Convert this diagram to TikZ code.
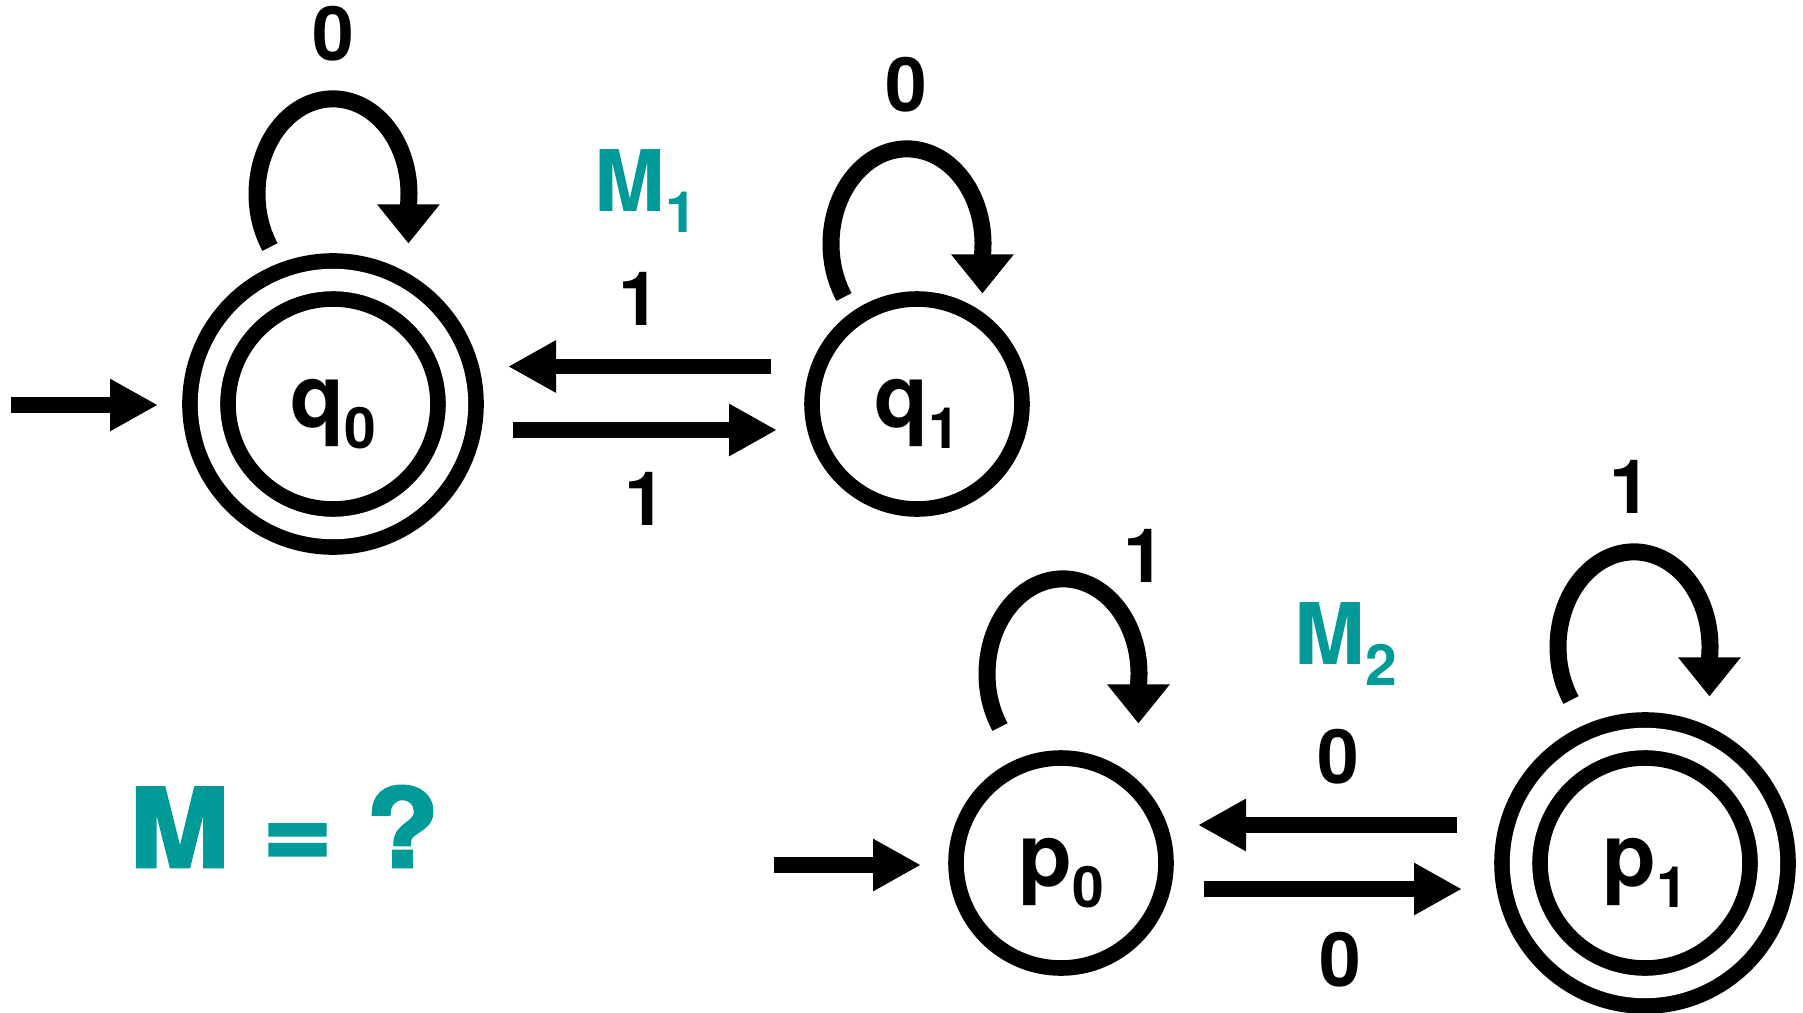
\documentclass[tikz,border=0pt]{standalone}
\usepackage{fontspec}
\setmainfont{TeX Gyre Heros}
\newfontfamily\blackfont[FakeBold=2.5,FakeStretch=1.1]{TeX Gyre Heros}
\usetikzlibrary{arrows.meta,positioning,calc}
\definecolor{mteal}{HTML}{009B98}
\newcommand{\lowsub}[1]{\raisebox{-10.5pt}{\fontsize{28.5}{30}\selectfont #1}}
\tikzset{
  state/.style={circle,draw=black,line width=7.8pt,minimum size=105pt,inner sep=0pt,font=\fontsize{44}{48}\selectfont\bfseries,text height=23pt,text depth=0pt},
  accepting/.style={double=white,double distance=11.2pt,minimum size=124pt},
  lbl/.style={inner sep=0pt,font=\fontsize{37.5}{40}\selectfont\bfseries},
  mlabel/.style={inner sep=0pt,anchor=base west,text=mteal,font=\fontsize{42.5}{46}\selectfont\bfseries},
  flow/.style={-{Triangle[length=24pt,width=24.5pt]},line width=7.8pt},
  loopflow/.style={-{Triangle[length=19.5pt,width=30pt]},line width=8.5pt},
}

\begin{document}
\begin{tikzpicture}[x=0.5pt,y=-0.5pt]
  \useasboundingbox (0,0) rectangle (1803,1012);
  \node[state,accepting] (q0) at (333,404) {q\lowsub{0}};
  \node[state] (q1) at (917,404) {q\lowsub{1}};
  \node[state] (p0) at (1061,863) {p\lowsub{0}};
  \node[state,accepting] (p1) at (1645,863) {p\lowsub{1}};
  \coordinate (q0in) at (11,405);
  \coordinate (p0in) at (774,865);
  \draw[flow] (q0in) -- ($(q0)+(-175,1)$);
  \draw[flow] (p0in) -- ($(p0)+(-140,2)$);
  \draw[flow] ($(q1)+(-146,-37.5)$) -- node[lbl,above=16.75pt]{1} ($(q0)+(175,-37.5)$);
  \draw[flow] ($(q0)+(180,26)$) -- node[lbl,below=17.5pt]{1} ($(q1)+(-140,26)$);
  \draw[flow] ($(p1)+(-188,-38)$) -- node[lbl,above=16.5pt,pos=.46]{0} ($(p0)+(137,-38)$);
  \draw[flow] ($(p0)+(142.5,26)$) -- node[lbl,below=17.5pt,pos=.53]{0} ($(p1)+(-183,26)$);
  \draw[loopflow] ($(q0)+(-63,-157)$) arc[start angle=146,end angle=367,x radius=76,y radius=95] -- ++(0,38);
  \draw[loopflow] ($(q1)+(-73,-107)$) arc[start angle=146,end angle=367,x radius=76,y radius=95] -- ++(0,38);
  \draw[loopflow] ($(p0)+(-61,-136)$) arc[start angle=146,end angle=367,x radius=76,y radius=95] -- ++(0,38);
  \draw[loopflow] ($(p1)+(-74,-163)$) arc[start angle=146,end angle=367,x radius=76,y radius=95] -- ++(0,38);
  \node[lbl] (q0loop) at ($(q0)+(0,-370)$) {0};
  \node[lbl] (q1loop) at ($(q1)+(-11,-319)$) {0};
  \node[lbl] (p0loop) at ($(p0)+(83,-307)$) {1};
  \node[lbl] (p1loop) at ($(p1)+(-15,-376)$) {1};
  \node[mlabel] (m1) at (594.5,211) {M\lowsub{1}};
  \node[mlabel] (m2) at (1294.5,664.7) {M\lowsub{2}};
  \node[mlabel,font=\blackfont\fontsize{54.5}{58}\selectfont\bfseries] (m) at (129,867) {M = ?};
\end{tikzpicture}
\end{document}
